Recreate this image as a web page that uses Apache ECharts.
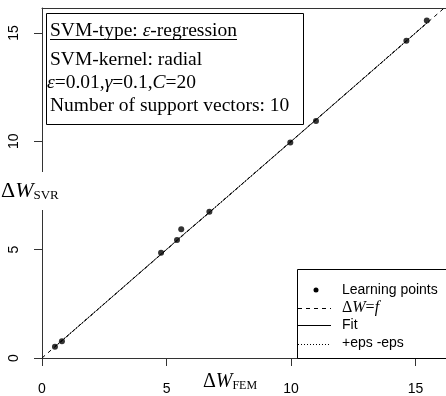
<!DOCTYPE html>
<html><head><meta charset="utf-8">
<script src="https://cdn.jsdelivr.net/npm/echarts@6/dist/echarts.min.js"></script>
<style>html,body{margin:0;padding:0;background:#fff}#c{width:446px;height:396px}</style>
</head><body><div id="c"></div>
<script>
// ---- data ----
const xTicks = [0, 5, 10, 15];
const yTicks = [0, 5, 10, 15];
const learnX = [0.52, 0.80, 4.78, 5.42, 5.59, 6.72, 9.97, 11.00, 14.63, 15.45];
const learnY = [0.52, 0.77, 4.86, 5.45, 5.94, 6.75, 9.94, 10.94, 14.64, 15.57];
const identX = [0, 16.3];
const identY = [0, 16.3];
const fitX = [0.52, 0.80, 4.78, 5.42, 5.59, 6.72, 9.97, 11.00, 14.63, 15.45];
const fitY = [0.53, 0.80, 4.79, 5.43, 5.61, 6.72, 9.96, 10.99, 14.63, 15.46];
const epsUpY = [0.54, 0.81, 4.80, 5.44, 5.62, 6.73, 9.97, 11.00, 14.64, 15.47];
const epsLoY = [0.52, 0.79, 4.78, 5.42, 5.60, 6.71, 9.95, 10.98, 14.62, 15.45];
const infoLines = ['SVM-type: ', 'SVM-kernel: radial', 'Number of support vectors: 10'];
const legendLabels = ['Learning points', 'Fit', '+eps -eps'];

const pairs = (xs, ys) => xs.map((x, i) => [x, ys[i]]);
const SERIF = "'Liberation Serif'";
const SANS = "'Liberation Sans'";
const AX = '#333';
const FS = 19.5;

const chart = echarts.init(document.getElementById('c'), null, {renderer: 'canvas'});
chart.setOption({
  animation: false,
  backgroundColor: '#fff',
  grid: {left: 42, top: 8, right: -6, bottom: 38, containLabel: false},
  xAxis: [{
    type: 'value', min: 0, max: 16.22, interval: 5, position: 'bottom',
    splitLine: {show: false},
    axisLine: {show: true, lineStyle: {color: AX, width: 1}},
    axisTick: {show: true, length: 8, lineStyle: {color: AX}, customValues: xTicks},
    axisLabel: {margin: 24, fontFamily: SANS, fontSize: 14, color: '#000', customValues: xTicks,
      formatter: v => xTicks.includes(v) ? String(v) : ''}
  }, {
    type: 'value', min: 0, max: 16.22, position: 'top',
    splitLine: {show: false},
    axisLine: {show: true, lineStyle: {color: AX, width: 1}},
    axisTick: {show: false}, axisLabel: {show: false}
  }],
  yAxis: {
    type: 'value', min: 0, max: 16.15, interval: 5,
    splitLine: {show: false},
    axisLine: {show: true, lineStyle: {color: AX, width: 1}},
    axisTick: {show: true, length: 8, lineStyle: {color: AX}, customValues: yTicks},
    axisLabel: {margin: 21, rotate: 90, fontFamily: SANS, fontSize: 14, color: '#000', customValues: yTicks,
      formatter: v => yTicks.includes(v) ? String(v) : ''}
  },
  series: [
    {type: 'line', name: 'ΔW=f', data: pairs(identX, identY), showSymbol: false, symbol: 'none',
      lineStyle: {color: '#000', width: 1, type: [4, 4]}, z: 3, silent: true},
    {type: 'line', name: 'Fit', data: pairs(fitX, fitY), showSymbol: false, symbol: 'none',
      lineStyle: {color: '#000', width: 0.6}, z: 3, silent: true},
    {type: 'line', name: '+eps', data: pairs(fitX, epsUpY), showSymbol: false, symbol: 'none',
      lineStyle: {color: '#000', width: 1, type: [1, 3]}, z: 3, silent: true},
    {type: 'line', name: '-eps', data: pairs(fitX, epsLoY), showSymbol: false, symbol: 'none',
      lineStyle: {color: '#000', width: 1, type: [1, 3]}, z: 3, silent: true},
    {type: 'scatter', name: 'Learning points', data: pairs(learnX, learnY), symbol: 'circle', symbolSize: 6,
      itemStyle: {color: '#000'}, z: 5}
  ],
  graphic: [
    // info box
    {type: 'rect', z: 50, shape: {x: 46.5, y: 13.5, width: 257, height: 111},
      style: {fill: '#fff', stroke: '#000', lineWidth: 1}},
    {type: 'text', z: 51, style: {x: 50, y: 31, verticalAlign: 'middle',
      text: '{a|' + infoLines[0] + '}{e|ε}{a|-regression}',
      rich: {a: {font: FS + 'px ' + SERIF, fill: '#000'}, e: {font: 'italic ' + FS + 'px ' + SERIF, fill: '#000'}}}},
    {type: 'line', z: 51, shape: {x1: 50, y1: 39.5, x2: 237, y2: 39.5}, style: {stroke: '#000', lineWidth: 1}},
    {type: 'text', z: 51, style: {x: 50, y: 60, verticalAlign: 'middle', text: infoLines[1], font: FS + 'px ' + SERIF, fill: '#000'}},
    {type: 'text', z: 51, style: {x: 47, y: 83, verticalAlign: 'middle',
      text: '{i|ε}{a|=0.01,}{i|γ}{a|=0.1,}{i|C}{a|=20}',
      rich: {a: {font: FS + 'px ' + SERIF, fill: '#000'}, i: {font: 'italic ' + FS + 'px ' + SERIF, fill: '#000'}}}},
    {type: 'text', z: 51, style: {x: 50, y: 106, verticalAlign: 'middle', text: infoLines[2], font: FS + 'px ' + SERIF, fill: '#000'}},
    // legend box
    {type: 'rect', z: 50, shape: {x: 297.5, y: 269.5, width: 160, height: 89},
      style: {fill: '#fff', stroke: '#000', lineWidth: 1}},
    {type: 'circle', z: 51, shape: {cx: 316, cy: 290, r: 2.5}, style: {fill: '#000'}},
    {type: 'text', z: 51, style: {x: 342, y: 290, verticalAlign: 'middle', text: legendLabels[0], font: '14px ' + SANS, fill: '#000'}},
    {type: 'line', z: 51, shape: {x1: 298, y1: 308.5, x2: 331, y2: 308.5}, style: {stroke: '#000', lineWidth: 1, lineDash: [4, 4]}},
    {type: 'text', z: 51, style: {x: 342, y: 308, verticalAlign: 'middle',
      text: '{a|Δ}{i|W}{a|=}{i|f}',
      rich: {a: {font: '16px ' + SERIF, fill: '#000'}, i: {font: 'italic 16px ' + SERIF, fill: '#000'}}}},
    {type: 'line', z: 51, shape: {x1: 298, y1: 325.5, x2: 331, y2: 325.5}, style: {stroke: '#000', lineWidth: 1}},
    {type: 'text', z: 51, style: {x: 342, y: 325, verticalAlign: 'middle', text: legendLabels[1], font: '14px ' + SANS, fill: '#000'}},
    {type: 'line', z: 51, shape: {x1: 298, y1: 344.5, x2: 331, y2: 344.5}, style: {stroke: '#000', lineWidth: 1, lineDash: [1, 2]}},
    {type: 'text', z: 51, style: {x: 342, y: 343, verticalAlign: 'middle', text: legendLabels[2], font: '14px ' + SANS, fill: '#000'}},
    // axis titles
    {type: 'text', z: 60, style: {x: 230, y: 382, align: 'center', verticalAlign: 'middle',
      text: '{a|Δ}{i|W}{s|FEM}',
      rich: {a: {font: '20px ' + SERIF, fill: '#000'}, i: {font: 'italic 20px ' + SERIF, fill: '#000'},
             s: {font: '12px ' + SERIF, fill: '#000', verticalAlign: 'bottom'}}}},
    {type: 'text', z: 60, style: {x: 1, y: 191, verticalAlign: 'middle',
      text: '{a|Δ}{i|W}{s|SVR}', backgroundColor: '#fff', padding: [8, 2, 8, 0],
      rich: {a: {font: '22px ' + SERIF, fill: '#000'}, i: {font: 'italic 22px ' + SERIF, fill: '#000'},
             s: {font: '13px ' + SERIF, fill: '#000', verticalAlign: 'bottom'}}}}
  ]
});
</script>
</body></html>
